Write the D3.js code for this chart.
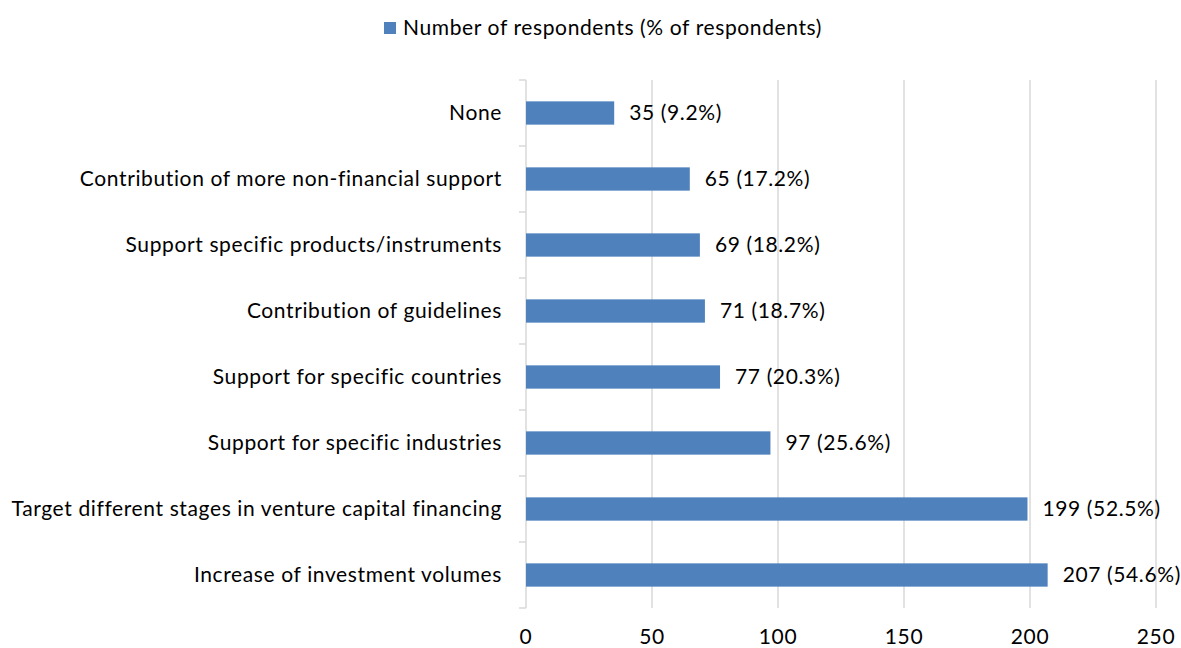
<!DOCTYPE html>
<html><head><meta charset="utf-8">
<script src="https://cdn.jsdelivr.net/npm/d3@7"></script>
<style>body{margin:0;background:#fff;} text{font-family:Lato,"Open Sans",sans-serif;fill:#000;letter-spacing:0.62px;}</style>
</head><body>
<svg id="c" width="1181" height="648"></svg>
<script>
const categories = ["None","Contribution of more non-financial support","Support specific products/instruments","Contribution of guidelines","Support for specific countries","Support for specific industries","Target different stages in venture capital financing","Increase of investment volumes"];
const values = [35,65,69,71,77,97,199,207];
const percents = ["9.2%","17.2%","18.2%","18.7%","20.3%","25.6%","52.5%","54.6%"];
const xTicks = [0,50,100,150,200,250];
const seriesName = "Number of respondents (% of respondents)";

const svg = d3.select("#c");
const fs = 21;
const x = d3.scaleLinear().domain([0,250]).range([526,1156]);
const y = d3.scaleBand().domain(categories).range([80,608]).paddingInner(0.647).paddingOuter(0.3235);

// gridlines
svg.append("g").selectAll("line").data(xTicks.slice(1)).join("line")
  .attr("x1",d=>x(d)).attr("x2",d=>x(d)).attr("y1",80).attr("y2",608)
  .attr("stroke","#d9d9d9").attr("stroke-width",1.5);

// y axis line and ticks at band boundaries
const bounds = d3.range(categories.length+1).map(i=>80+i*(528/categories.length));
svg.append("line").attr("x1",526).attr("x2",526).attr("y1",80).attr("y2",608).attr("stroke","#d9d9d9").attr("stroke-width",1.5);
svg.append("g").selectAll("line").data(bounds).join("line")
  .attr("x1",519).attr("x2",526).attr("y1",d=>d).attr("y2",d=>d).attr("stroke","#d9d9d9").attr("stroke-width",1.5);

// bars
svg.append("g").selectAll("rect").data(values).join("rect")
  .attr("x",x(0)).attr("y",(d,i)=>y(categories[i]))
  .attr("width",d=>x(d)-x(0)).attr("height",y.bandwidth())
  .attr("fill","#4f81bd");

// value labels
svg.append("g").selectAll("text").data(values).join("text")
  .attr("x",d=>x(d)+15).attr("y",(d,i)=>y(categories[i])+y.bandwidth()/2)
  .attr("dy","0.35em").attr("font-size",fs)
  .text((d,i)=>`${d} (${percents[i]})`);

// category labels
svg.append("g").selectAll("text").data(categories).join("text")
  .attr("x",502).attr("y",d=>y(d)+y.bandwidth()/2).attr("dy","0.35em")
  .attr("text-anchor","end").attr("font-size",fs).text(d=>d);

// x tick labels
svg.append("g").selectAll("text").data(xTicks).join("text")
  .attr("x",d=>x(d)).attr("y",637).attr("dy","0.35em").attr("text-anchor","middle")
  .attr("font-size",fs).text(d=>d);

// legend
svg.append("rect").attr("x",384).attr("y",22).attr("width",12).attr("height",12).attr("fill","#4f81bd");
svg.append("text").attr("x",403).attr("y",28).attr("dy","0.35em").attr("font-size",fs).text(seriesName);
</script>
</body></html>
